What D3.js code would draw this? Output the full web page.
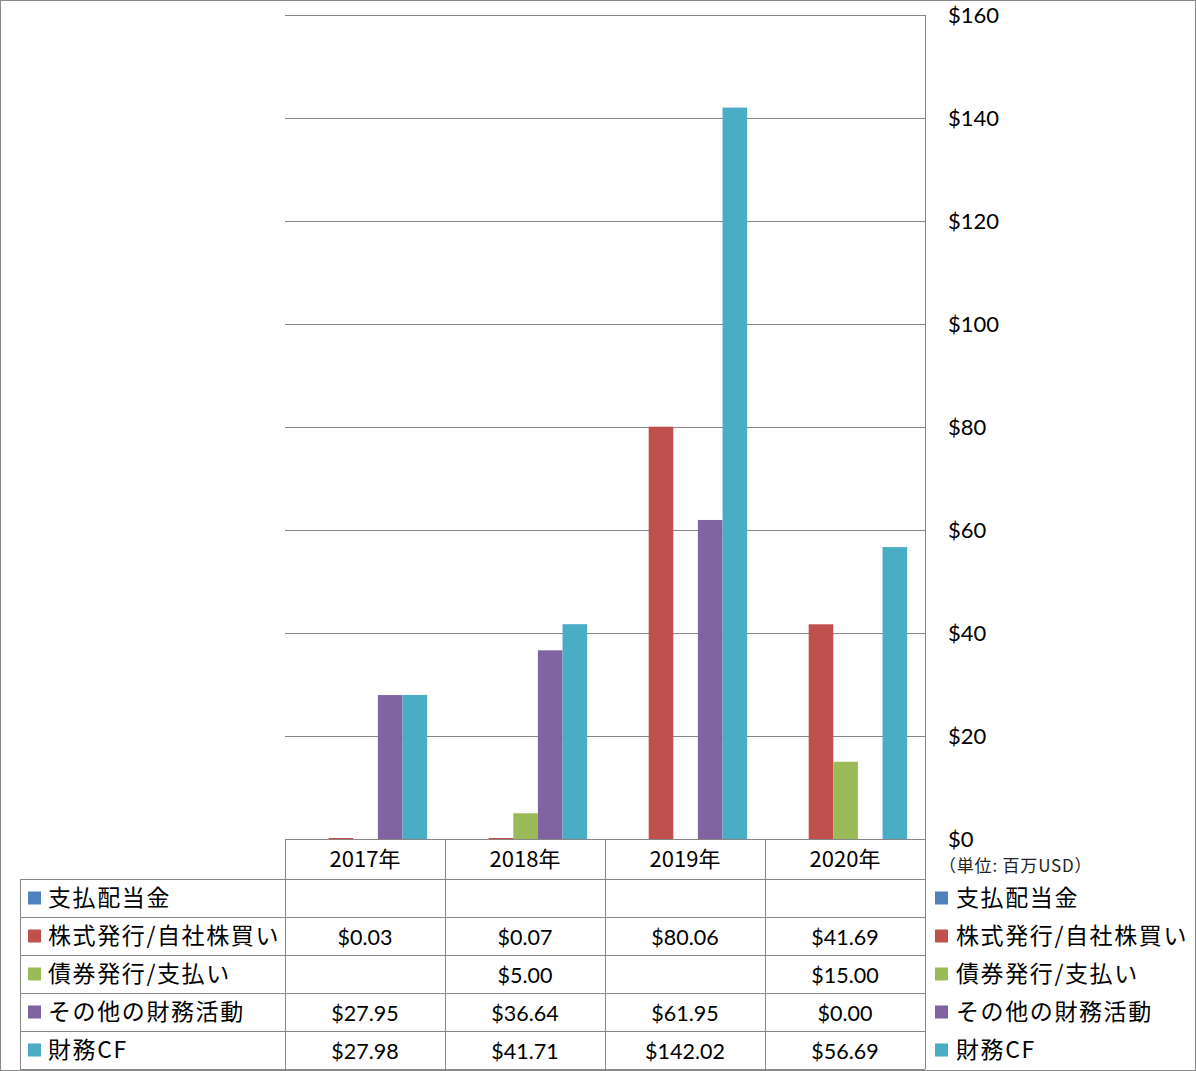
<!DOCTYPE html>
<html><head><meta charset="utf-8">
<script src="https://cdn.jsdelivr.net/npm/d3@7"></script>
<style>
body{margin:0;background:#fff;}
svg text{font-family:"Noto Sans CJK JP","Noto Sans",sans-serif;}
</style></head>
<body><svg id="c" width="1196" height="1071"></svg>
<script>
const categories = ["2017年","2018年","2019年","2020年"];
const seriesNames = ["支払配当金","株式発行/自社株買い","債券発行/支払い","その他の財務活動","財務CF"];
const dividends = [null,null,null,null];
const stockIssue = [0.03,0.07,80.06,41.69];
const bondIssue = [null,5.00,null,15.00];
const otherFin = [27.95,36.64,61.95,0.00];
const financingCF = [27.98,41.71,142.02,56.69];
const yTicks = [0,20,40,60,80,100,120,140,160];
const unitLabel = "（単位: 百万USD）";
const colors = ["#4F81BD","#C0504D","#9BBB59","#8064A2","#4BACC6"];
const seriesValues = [dividends,stockIssue,bondIssue,otherFin,financingCF];

const svg = d3.select("#c");
const L=285,R=925,T=15,B=839;
const grid="#868686";
svg.append("rect").attr("x",0.5).attr("y",0.5).attr("width",1195).attr("height",1070).attr("fill","none").attr("stroke","#898989");

const x = d3.scaleBand().domain(categories).range([L,R]);
const y = d3.scaleLinear().domain([0,160]).range([B,T]);
const bw = x.bandwidth()/6.5;

const yAxis = d3.axisRight(y).tickValues(yTicks).tickSize(-(R-L)).tickFormat(d=>"$"+d);
const ga = svg.append("g").attr("transform",`translate(${R},0)`).call(yAxis);
ga.select(".domain").remove();
ga.selectAll(".tick line").attr("stroke",grid).attr("stroke-width",1).attr("shape-rendering","crispEdges");
ga.selectAll(".tick text").attr("x",23).attr("dx",0).attr("text-anchor","start")
  .style("font-family","Lato,'Open Sans',sans-serif").style("font-size","22px").attr("fill","#000");
svg.append("line").attr("x1",R+0.5).attr("x2",R+0.5).attr("y1",T).attr("y2",1069).attr("stroke",grid);

seriesValues.forEach((vals,si)=>{
  svg.append("g").selectAll("rect").data(categories.map((c,i)=>({c,v:vals[i]})).filter(d=>d.v!==null && d.v>0))
   .join("rect")
   .attr("x",d=>x(d.c)+bw*0.75+si*bw+0.6)
   .attr("width",bw)
   .attr("y",d=>Math.min(y(d.v),B-1))
   .attr("height",d=>Math.max(B-y(d.v),1))
   .attr("fill",colors[si]);
});

const rowTop=879,rowH=38;
const tg = svg.append("g").attr("shape-rendering","crispEdges");
tg.append("line").attr("x1",L).attr("x2",R).attr("y1",B+0.5).attr("y2",B+0.5).attr("stroke",grid);
for(let r=0;r<=5;r++){
  const yy=rowTop+r*rowH+0.5;
  tg.append("line").attr("x1",20).attr("x2",R).attr("y1",yy).attr("y2",yy).attr("stroke",grid);
}
tg.append("line").attr("x1",20.5).attr("x2",20.5).attr("y1",rowTop).attr("y2",rowTop+5*rowH).attr("stroke",grid);
categories.forEach(c=>{
  tg.append("line").attr("x1",x(c)+0.5).attr("x2",x(c)+0.5).attr("y1",B).attr("y2",rowTop+5*rowH).attr("stroke",grid);
});
svg.append("g").selectAll("text").data(categories).join("text")
  .attr("x",d=>x(d)+x.bandwidth()/2).attr("y",B+28).attr("text-anchor","middle")
  .style("font-size","22px").text(d=>d);
const fmt = v => v===null? "" : "$"+v.toFixed(2);
seriesNames.forEach((n,si)=>{
  const cy=rowTop+si*rowH+rowH/2;
  svg.append("rect").attr("x",28).attr("y",cy-6.5).attr("width",13).attr("height",13).attr("fill",colors[si]);
  svg.append("text").attr("x",48).attr("y",cy+8).style("font-size","23px").style("letter-spacing","1.6px").text(n);
  svg.append("rect").attr("x",935).attr("y",cy-6.5).attr("width",13).attr("height",13).attr("fill",colors[si]);
  svg.append("text").attr("x",956).attr("y",cy+8).style("font-size","23px").style("letter-spacing","1.6px").text(n);
  categories.forEach((c,ci)=>{
    svg.append("text").attr("x",x(c)+x.bandwidth()/2).attr("y",cy+9).attr("text-anchor","middle")
      .style("font-family","Lato,'Open Sans',sans-serif").style("font-size","21.5px").text(fmt(seriesValues[si][ci]));
  });
});
svg.append("text").attr("x",939).attr("y",872).style("font-size","17px").style("letter-spacing","0.8px").attr("fill","#222").text(unitLabel);
</script></body></html>
